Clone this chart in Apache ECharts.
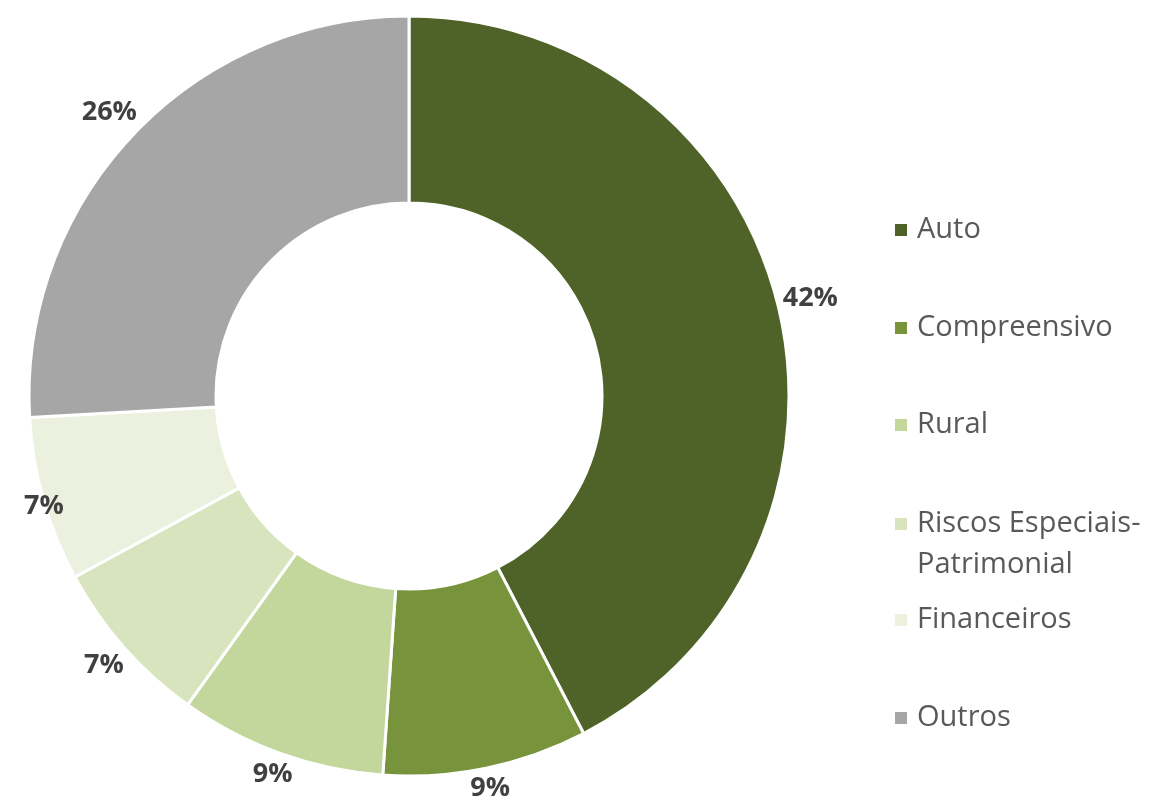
<!DOCTYPE html>
<html>
<head>
<meta charset="utf-8">
<script src="https://cdn.jsdelivr.net/npm/echarts@6/dist/echarts.min.js"></script>
<style>
html,body{margin:0;padding:0;background:#fff;}
#chart{width:1149px;height:798px;}
</style>
</head>
<body>
<div id="chart"></div>
<script>
// 分类与数值 (百分比)
var categories = ['Auto', 'Compreensivo', 'Rural', 'Riscos Especiais-\nPatrimonial', 'Financeiros', 'Outros'];
var values = [42.4, 8.7, 8.8, 7.2, 7.0, 25.9];
var colors = ['#4F6228', '#77933C', '#C3D69B', '#D7E4BD', '#EBF1DE', '#A6A6A6'];
// 图例每项第一行文字的纵向中心
var legendRows = [228, 326, 423, 522, 618, 716];

var cx = 409, cy = 396, rOut = 380, rIn = 193;

var myChart = echarts.init(document.getElementById('chart'));

var data = [];
var total = 0;
for (var i = 0; i < categories.length; i++) {
	data.push({ name: categories[i], value: values[i], itemStyle: { color: colors[i] } });
	total += values[i];
}
// 每块中间角度(从12点顺时针)，用来摆标签
var midAngles = [];
var acc = 0;
for (var k = 0; k < values.length; k++) {
	midAngles.push((acc + values[k] / 2) / total * Math.PI * 2);
	acc += values[k];
}

// 每个图例单独摆放，才能对上原图的间距
var legends = [];
for (var j = 0; j < categories.length; j++) {
	var multi = categories[j].indexOf('\n') >= 0;
	legends.push({
		orient: 'vertical',
		left: 888,
		top: legendRows[j] - (multi ? 61.5 : 20.5) - 3,
		itemWidth: 14,
		itemHeight: 14,
		icon: 'rect',
		selectedMode: false,
		data: [categories[j]],
		formatter: function (name) {
			// 两行的项目，前面加空行让图标对齐第一行
			return name.indexOf('\n') >= 0 ? '\n' + name : name;
		},
		textStyle: {
			fontFamily: 'Open Sans',
			fontSize: 29,
			lineHeight: 41,
			color: '#595959',
			padding: [0, 0, 0, 4]
		}
	});
}

var option = {
	animation: false,
	legend: legends,
	series: [
		{
			type: 'pie',
			center: [cx, cy],
			radius: [rIn, rOut],
			startAngle: 90,
			clockwise: true,
			percentPrecision: 0,
			avoidLabelOverlap: false,
			itemStyle: { borderColor: '#fff', borderWidth: 3 },
			label: {
				show: true,
				position: 'outside',
				formatter: '{d}%',
				fontFamily: 'Open Sans',
				fontWeight: 'bold',
				fontSize: 27,
				color: '#404040'
			},
			labelLine: { show: false },
			// 标签贴着外圈放，和 Excel 一样
			labelLayout: function (params) {
				var a = midAngles[params.dataIndex];
				var dx = Math.sin(a), dy = -Math.cos(a);
				var w = params.labelRect.width, h = params.labelRect.height;
				var half = w / 2 * Math.abs(dx) + h / 2 * Math.abs(dy);
				var r = rOut + half + 3;
				var x = cx + r * dx;
				var y = cy + r * dy;
				if (x - w / 2 < 24) x = 24 + w / 2;
				return { x: x, y: y, align: 'center', verticalAlign: 'middle' };
			},
			emphasis: { disabled: true },
			data: data
		}
	]
};
myChart.setOption(option);
</script>
</body>
</html>
